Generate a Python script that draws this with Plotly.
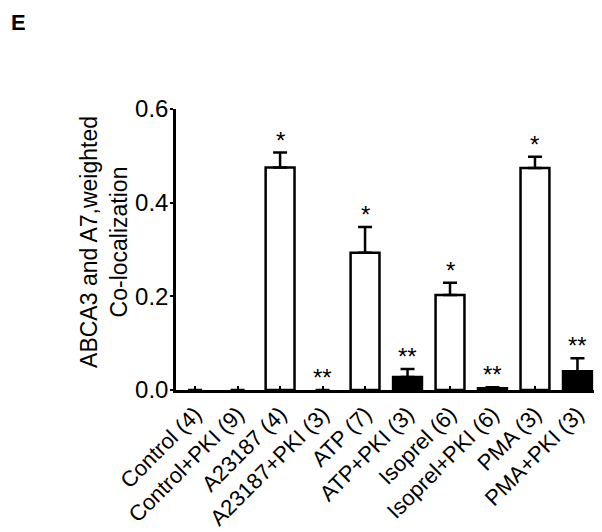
import plotly.graph_objects as go

categories = ['Control (4)', 'Control+PKI (9)', 'A23187 (4)', 'A23187+PKI (3)',
              'ATP (7)', 'ATP+PKI (3)', 'Isoprel (6)', 'Isoprel+PKI (6)',
              'PMA (3)', 'PMA+PKI (3)']
values = [0.0, 0.0, 0.475, 0.0, 0.293, 0.028, 0.203, 0.004, 0.474, 0.040]
errors = [None, None, 0.032, None, 0.055, 0.017, 0.026, 0.002, 0.024, 0.028]
pki = [False, True, False, True, False, True, False, True, False, True]
stars = ['', '', '*', '**', '*', '**', '*', '**', '*', '**']

FONT = 'Arial, Liberation Sans, sans-serif'

fill = ['black' if p else 'white' for p in pki]
outline = [2.5 if v > 0 else 0 for v in values]
err_up = [e if e is not None else 0 for e in errors]

fig = go.Figure()
fig.add_trace(go.Bar(
    x=categories, y=values,
    marker=dict(color=fill, line=dict(color='black', width=outline)),
    error_y=dict(type='data', symmetric=False, array=errors,
                 arrayminus=[0] * len(values),
                 color='black', thickness=2.5, width=7),
    showlegend=False,
))

for cat, v, e, s in zip(categories, values, err_up, stars):
    if not s:
        continue
    fig.add_annotation(
        x=cat, y=v + e, text=s, showarrow=False,
        xref='x', yref='y', yanchor='bottom', yshift=-3,
        font=dict(size=24, color='black', family=FONT),
    )

# page body adds an 8px offset, so the figure is 8px smaller than the window
fig.add_annotation(
    xref='paper', yref='paper', x=-0.171, y=0.527,
    text='ABCA3 and A7,weighted<br>Co-localization', textangle=-90,
    showarrow=False, xanchor='center', yanchor='middle',
    font=dict(size=23, color='black', family=FONT),
)
fig.add_annotation(
    xref='paper', yref='paper', x=-0.397, y=1.36,
    text='<b>E</b>', showarrow=False, xanchor='left', yanchor='top',
    font=dict(size=22, color='black', family=FONT),
)

fig.update_layout(
    width=594, height=524,
    margin=dict(l=168, r=5, t=101, b=142, autoexpand=False),
    plot_bgcolor='white', paper_bgcolor='white',
    font=dict(family=FONT, color='black'),
    bargap=0.32,
)
fig.update_xaxes(
    range=[-0.45, 9.46], showline=True, linecolor='black', linewidth=2.5,
    ticks='inside', ticklen=4, tickwidth=2, tickcolor='black',
    tickangle=-45, tickfont=dict(size=22, family=FONT, color='black'),
    showgrid=False, zeroline=False, automargin=False,
)
fig.update_yaxes(
    range=[0, 0.6], tickvals=[0, 0.2, 0.4, 0.6], tickformat='.1f',
    showline=True, linecolor='black', linewidth=2.5,
    ticks='outside', ticklen=3, tickwidth=2, tickcolor='black',
    ticklabelstandoff=-3,
    tickfont=dict(size=24, family=FONT, color='black'),
    showgrid=False, zeroline=False, automargin=False,
)

fig.write_html('out.html')
